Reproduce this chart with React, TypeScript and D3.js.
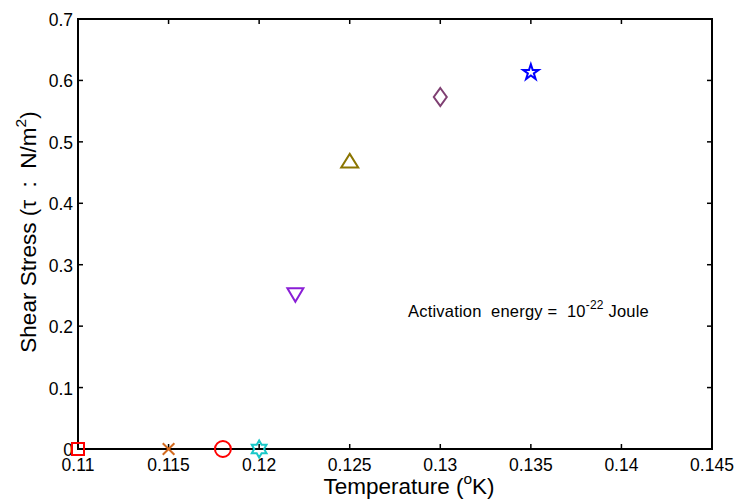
import React from "react";
import * as d3 from "d3";

const temperatures = [0.11, 0.115, 0.118, 0.12, 0.122, 0.125, 0.13, 0.135];
const stresses = [0, 0, 0, 0, 0.251, 0.469, 0.573, 0.613];
const markerKinds = ["square", "times", "circle", "hexagram", "triangleDown", "triangle", "diamond", "star"];
const markerColors = ["#ff0000", "#d2691e", "#ff0000", "#19c8c8", "#8a1ed6", "#8b7500", "#7f3f72", "#0000ff"];
const xTicks = [0.11, 0.115, 0.12, 0.125, 0.13, 0.135, 0.14, 0.145];
const yTicks = [0, 0.1, 0.2, 0.3, 0.4, 0.5, 0.6, 0.7];

const W = 742, H = 501;
const left = 78, right = 712, top = 19, bottom = 449;
const FONT = "Liberation Sans, Arial, sans-serif";

function markerPath(kind: string): string {
  switch (kind) {
    case "square": return "M-6,-6H6V6H-6Z";
    case "times": return d3.symbol(d3.symbolTimes, 90)()!;
    case "circle": return d3.symbol(d3.symbolCircle, 200)()!;
    case "triangle": return "M0,-7L8.5,6.5L-8.5,6.5Z";
    case "triangleDown": return "M0,7L8,-6.5L-8,-6.5Z";
    case "diamond": return "M0,-9L6.5,0L0,9L-6.5,0Z";
    case "star": return d3.symbol(d3.symbolStar, 75)()!;
    case "hexagram": {
      const R = 8.5, r = R / Math.sqrt(3);
      const pts: [number, number][] = [];
      for (let i = 0; i < 12; i++) {
        const a = -Math.PI / 2 + (i * Math.PI) / 6;
        const rad = i % 2 === 0 ? R : r;
        pts.push([rad * Math.cos(a), rad * Math.sin(a)]);
      }
      return d3.line()(pts)! + "Z";
    }
  }
  return "";
}

export default function App() {
  const x = d3.scaleLinear().domain([0.11, 0.145]).range([left, right]);
  const y = d3.scaleLinear().domain([0, 0.7]).range([bottom, top]);
  const tl = 5;
  return (
    <svg width={W} height={H} style={{ position: "absolute", left: 0, top: 0, background: "#fff" }}>
      <rect x={0} y={0} width={W} height={H} fill="#fff" />
      {xTicks.map((t, i) => (
        <g key={"xt" + i}>
          <line x1={x(t)} x2={x(t)} y1={bottom} y2={bottom - tl} stroke="#000" strokeWidth={1.5} />
          <line x1={x(t)} x2={x(t)} y1={top} y2={top + tl} stroke="#000" strokeWidth={1.5} />
          <text x={x(t)} y={471} textAnchor="middle" fontFamily={FONT} fontSize={17.5}>{String(t)}</text>
        </g>
      ))}
      {yTicks.map((t, i) => (
        <g key={"yt" + i}>
          <line x1={left} x2={left + tl} y1={y(t)} y2={y(t)} stroke="#000" strokeWidth={1.5} />
          <line x1={right} x2={right - tl} y1={y(t)} y2={y(t)} stroke="#000" strokeWidth={1.5} />
          <text x={73} y={y(t) + 7} textAnchor="end" fontFamily={FONT} fontSize={17.5}>{String(t)}</text>
        </g>
      ))}
      <rect x={left} y={top} width={right - left} height={bottom - top} fill="none" stroke="#000" strokeWidth={2} />
      {temperatures.map((t, i) => (
        <path
          key={"m" + i}
          d={markerPath(markerKinds[i])}
          transform={`translate(${x(t)},${y(stresses[i])})`}
          fill="none"
          stroke={markerColors[i]}
          strokeWidth={2}
        />
      ))}
      <text x={408} y={317} fontFamily={FONT} fontSize={16.5} letterSpacing={0.2} xmlSpace="preserve">
        {"Activation  energy =  10"}
        <tspan dy={-8} fontSize={12}>{"-22"}</tspan>
        <tspan dy={8}>{" Joule"}</tspan>
      </text>
      <text x={409} y={494} textAnchor="middle" fontFamily={FONT} fontSize={22.5}>
        {"Temperature ("}
        <tspan dy={-10} fontSize={15.5}>o</tspan>
        <tspan dy={10}>K)</tspan>
      </text>
      <text transform="translate(36,232) rotate(-90)" textAnchor="middle" fontFamily={FONT} fontSize={22.5} xmlSpace="preserve">
        {"Shear Stress (\u03c4  :  N/m"}
        <tspan dy={-10} fontSize={15.5}>2</tspan>
        <tspan dy={10}>)</tspan>
      </text>
    </svg>
  );
}
